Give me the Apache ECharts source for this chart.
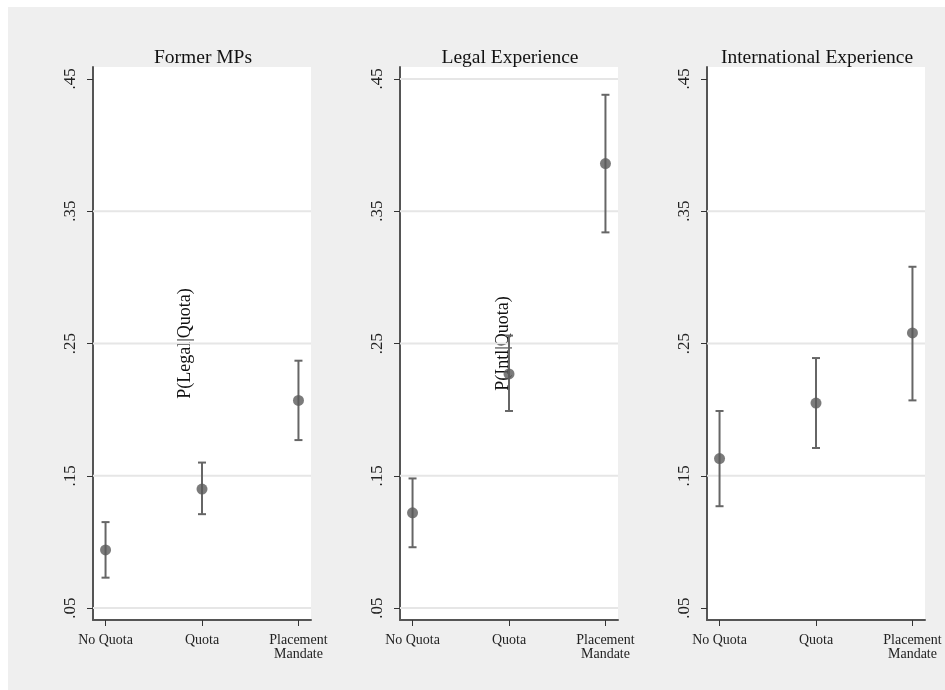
<!DOCTYPE html>
<html><head><meta charset="utf-8">
<script src="https://cdn.jsdelivr.net/npm/echarts@6/dist/echarts.min.js"></script>
<style>html,body{margin:0;padding:0;background:#fff}#c{width:945px;height:690px}</style></head>
<body><div id="c"></div>
<script>
const categories = ['No Quota', 'Quota', 'Placement\nMandate'];
const categoryPositions = [1, 2, 3];
const panelTitles = ['Former MPs', 'Legal Experience', 'International Experience'];
const yTitles = ['P(Legal|Quota)', 'P(Intl|Quota)', ''];
const yTicks = [0.05, 0.15, 0.25, 0.35, 0.45];

const formerEst = [0.094, 0.140, 0.207];
const formerLo  = [0.073, 0.121, 0.177];
const formerHi  = [0.115, 0.160, 0.237];

const legalEst = [0.122, 0.227, 0.386];
const legalLo  = [0.096, 0.199, 0.334];
const legalHi  = [0.148, 0.256, 0.438];

const intlEst = [0.163, 0.205, 0.258];
const intlLo  = [0.127, 0.171, 0.207];
const intlHi  = [0.199, 0.239, 0.308];

const gridLines = [
  [0.05, 0.15, 0.25, 0.35],
  [0.05, 0.15, 0.25, 0.35, 0.45],
  [0.15, 0.25, 0.35]
];

const panels = [
  {est: formerEst, lo: formerLo, hi: formerHi},
  {est: legalEst, lo: legalLo, hi: legalHi},
  {est: intlEst, lo: intlLo, hi: intlHi}
];

const font = 'Liberation Serif, Times New Roman, serif';
const lefts = [93, 400, 707];
const gw = 218, gtop = 67, gh = 553;
const nameGaps = [-101, -112, 0];

const option = {
  animation: false,
  backgroundColor: '#ffffff',
  graphic: [{type: 'rect', z: -100, silent: true, shape: {x: 8, y: 7, width: 937, height: 690}, style: {fill: '#EFEFEF'}}],
  title: panelTitles.map((t, i) => ({
    text: t, left: lefts[i] + gw / 2 - 4, top: 43, textAlign: 'center',
    textStyle: {fontFamily: font, fontSize: 19.5, fontWeight: 'normal', color: '#111'}
  })),
  grid: lefts.map(l => ({left: l, top: gtop, width: gw, height: gh, show: true, backgroundColor: '#ffffff', borderWidth: 0})),
  xAxis: lefts.map((l, i) => ({
    type: 'value', gridIndex: i, min: 0.87, max: 3.13,
    axisLine: {show: true, onZero: false, lineStyle: {color: '#555', width: 2}},
    axisTick: {show: true, customValues: categoryPositions, length: 6, lineStyle: {color: '#333', width: 1}},
    axisLabel: {show: true, customValues: categoryPositions, margin: 13,
      formatter: v => categories[Math.round(v) - 1],
      fontFamily: font, fontSize: 14, color: '#222', lineHeight: 14},
    splitLine: {show: false}
  })),
  yAxis: lefts.map((l, i) => ({
    type: 'value', gridIndex: i, min: 0.041, max: 0.459,
    name: yTitles[i], nameLocation: 'middle', nameGap: nameGaps[i],
    nameTextStyle: {fontFamily: font, fontSize: 18, color: '#111'},
    axisLine: {show: true, onZero: false, lineStyle: {color: '#555', width: 2}},
    axisTick: {show: true, customValues: yTicks, length: 6, lineStyle: {color: '#333', width: 1}},
    axisLabel: {show: true, customValues: yTicks, rotate: 90, margin: 14,
      formatter: v => v.toFixed(2).replace(/^0/, ''),
      fontFamily: font, fontSize: 17, color: '#222'},
    splitLine: {show: false}
  })),
  series: []
};

panels.forEach((p, i) => {
  option.series.push({
    type: 'custom', xAxisIndex: i, yAxisIndex: i, z: 1, silent: true,
    data: gridLines[i].map(v => [v]),
    renderItem: (params, api) => {
      const cs = params.coordSys;
      const y = api.coord([1, api.value(0)])[1];
      return {type: 'line', shape: {x1: cs.x, y1: y, x2: cs.x + cs.width, y2: y},
        style: {stroke: '#E6E6E6', lineWidth: 2}};
    }
  });
  option.series.push({
    type: 'custom', xAxisIndex: i, yAxisIndex: i, z: 2, silent: true,
    data: categoryPositions.map((x, k) => [x, p.lo[k], p.hi[k]]),
    renderItem: (params, api) => {
      const a = api.coord([api.value(0), api.value(1)]);
      const b = api.coord([api.value(0), api.value(2)]);
      const w = 4;
      const st = {stroke: '#666', lineWidth: 2};
      return {type: 'group', children: [
        {type: 'line', shape: {x1: a[0], y1: a[1], x2: b[0], y2: b[1]}, style: st},
        {type: 'line', shape: {x1: a[0] - w, y1: a[1], x2: a[0] + w, y2: a[1]}, style: st},
        {type: 'line', shape: {x1: b[0] - w, y1: b[1], x2: b[0] + w, y2: b[1]}, style: st}
      ]};
    }
  });
  option.series.push({
    type: 'scatter', xAxisIndex: i, yAxisIndex: i, z: 3,
    symbol: 'circle', symbolSize: 11,
    itemStyle: {color: '#5a5a5a'},
    data: categoryPositions.map((x, k) => [x, p.est[k]])
  });
});

const chart = echarts.init(document.getElementById('c'), null, {renderer: 'canvas'});
chart.setOption(option);
</script>
</body></html>
